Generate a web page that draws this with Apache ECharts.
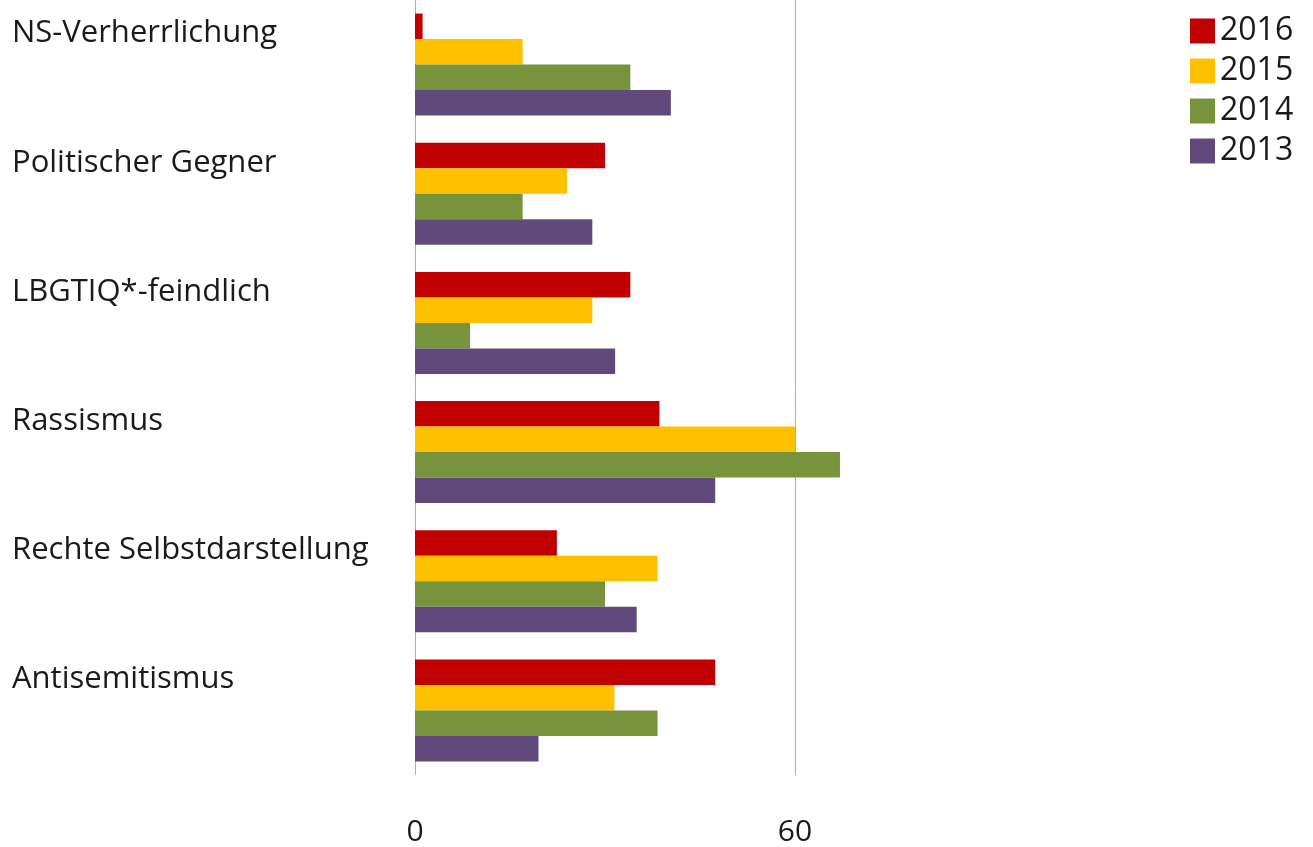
<!DOCTYPE html>
<html>
<head>
<meta charset="utf-8">
<script src="https://cdn.jsdelivr.net/npm/echarts@6/dist/echarts.min.js"></script>
<style>
html,body{margin:0;padding:0;background:#fff;}
#chart{width:1313px;height:847px;}
</style>
</head>
<body>
<div id="chart"></div>
<script>
const categories = ['NS-Verherrlichung', 'Politischer Gegner', 'LBGTIQ*-feindlich', 'Rassismus', 'Rechte Selbstdarstellung', 'Antisemitismus'];
const years = ['2016', '2015', '2014', '2013'];
const values2016 = [1.2, 30, 34, 38.6, 22.4, 47.4];
const values2015 = [17, 24, 28, 60, 38.3, 31.5];
const values2014 = [34, 17, 8.7, 67.1, 30, 38.3];
const values2013 = [40.4, 28, 31.6, 47.4, 35, 19.5];
const xTicks = [0, 60];

const colors = ['#C00000', '#FFC000', '#77933C', '#604A7B'];
const seriesData = [values2016, values2015, values2014, values2013];
const FONT = 'Open Sans';

const chart = echarts.init(document.getElementById('chart'));
chart.setOption({
  animation: false,
  textStyle: {fontFamily: FONT},
  grid: {left: 415, top: -1, height: 778, right: 138},
  legend: {
    data: years,
    orient: 'vertical',
    left: 1190,
    top: 15,
    padding: 0,
    itemWidth: 25,
    itemHeight: 25,
    itemGap: 8,
    icon: 'rect',
    textStyle: {fontSize: 32, color: '#1a1a1a', fontFamily: FONT, lineHeight: 25}
  },
  xAxis: {
    type: 'value',
    min: 0,
    max: 120,
    interval: 60,
    axisLine: {show: false},
    axisTick: {show: false},
    axisLabel: {
      fontSize: 30, color: '#1a1a1a', margin: 42, showMaxLabel: false,
      formatter: v => xTicks.indexOf(v) >= 0 ? String(v) : ''
    },
    splitLine: {show: true, lineStyle: {color: ['#9AAFCB', '#9AAFCB', 'rgba(0,0,0,0)'], width: 1}}
  },
  yAxis: {
    type: 'category',
    data: categories,
    inverse: true,
    axisLine: {show: false},
    axisTick: {show: false},
    axisLabel: {
      align: 'left',
      margin: 403,
      fontSize: 31,
      color: '#1a1a1a',
      verticalAlign: 'bottom',
      lineHeight: 62
    }
  },
  series: years.map((y, i) => ({
    name: y,
    type: 'bar',
    data: seriesData[i],
    itemStyle: {color: colors[i]},
    barGap: '0%',
    barCategoryGap: '21%'
  }))
});
</script>
</body>
</html>
